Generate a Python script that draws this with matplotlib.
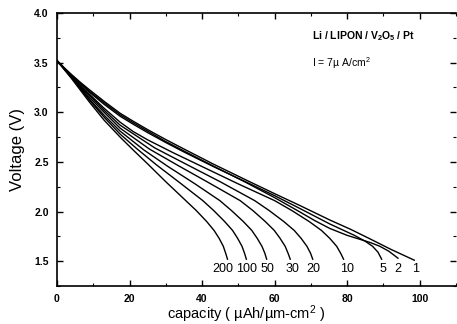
import matplotlib
matplotlib.use("Agg")
import matplotlib.pyplot as plt
from matplotlib.ticker import MultipleLocator

plt.rcParams['font.family'] = ['Liberation Sans Narrow', 'Liberation Sans', 'DejaVu Sans']
plt.rcParams['mathtext.default'] = 'regular'

# discharge curves, one per current (uA/cm2)
rates = ['1', '2', '5', '10', '20', '30', '50', '100', '200']

cap_1 = [0, 2, 4, 6.5, 9, 13, 17.4, 21, 25, 30, 35, 43, 52, 60, 67, 75.2, 81, 86, 92, 98.5]
v_1 = [3.52, 3.448, 3.38, 3.30, 3.225, 3.11, 2.99, 2.91, 2.825, 2.725, 2.63, 2.48, 2.32,
       2.18, 2.06, 1.915, 1.82, 1.73, 1.62, 1.51]

cap_2 = [0, 2, 4, 6.5, 9, 13, 17.4, 21, 25, 30, 35, 43, 52, 60, 67, 71, 75.2, 80, 86.2, 89, 91.5, 94]
v_2 = [3.52, 3.445, 3.375, 3.29, 3.21, 3.095, 2.975, 2.895, 2.81, 2.705, 2.61, 2.46, 2.295,
       2.14, 1.995, 1.91, 1.83, 1.76, 1.69, 1.65, 1.60, 1.53]

cap_5 = [0, 2, 4, 6.5, 9, 13, 17.4, 21, 25, 30, 35, 43, 52, 60, 67, 75.2, 82, 85, 87, 88.5, 89.5]
v_5 = [3.52, 3.445, 3.37, 3.285, 3.20, 3.08, 2.96, 2.88, 2.795, 2.695, 2.60, 2.455, 2.30,
       2.16, 2.03, 1.875, 1.76, 1.70, 1.65, 1.59, 1.52]

cap_10 = [0, 2, 4, 6.5, 9, 13, 17.4, 21, 25, 32, 40, 50, 60, 64.75, 69.5, 72.9, 75.2, 77.1, 78.2, 79]
v_10 = [3.52, 3.44, 3.36, 3.27, 3.18, 3.04, 2.90, 2.806, 2.722, 2.593, 2.453, 2.278, 2.11,
        2.01, 1.90, 1.81, 1.73, 1.65, 1.58, 1.52]

cap_20 = [0, 2, 4, 6.5, 9, 13, 17.4, 27, 36.5, 45, 54.5, 58.5, 62.5, 65.4, 67.3, 68.9, 69.9, 70.5]
v_20 = [3.52, 3.44, 3.355, 3.26, 3.17, 3.02, 2.87, 2.64, 2.46, 2.30, 2.11,
        2.01, 1.90, 1.81, 1.73, 1.65, 1.58, 1.52]

cap_30 = [0, 2, 4, 6.5, 9, 13, 17.4, 25.5, 33.5, 42, 50.5, 54, 57.4, 59.9, 61.5, 62.9, 63.7, 64.3]
v_30 = [3.52, 3.44, 3.35, 3.25, 3.15, 3.00, 2.84, 2.629, 2.461, 2.287, 2.11,
        2.01, 1.90, 1.81, 1.73, 1.65, 1.58, 1.52]

cap_50 = [0, 2, 4, 6.5, 9, 13, 17.4, 24, 30.5, 38, 44.9, 48.1, 51.35, 53.7, 55.2, 56.5, 57.3, 57.8]
v_50 = [3.52, 3.435, 3.35, 3.24, 3.13, 2.97, 2.81, 2.619, 2.456, 2.28, 2.11,
        2.01, 1.90, 1.81, 1.73, 1.65, 1.58, 1.52]

cap_100 = [0, 2, 4, 6.5, 9, 13, 17.4, 22, 27.5, 34, 40.2, 43.2, 46.2, 48.4, 49.8, 51.0, 51.7, 52.2]
v_100 = [3.52, 3.435, 3.35, 3.235, 3.12, 2.95, 2.78, 2.633, 2.468, 2.286, 2.11,
         2.01, 1.90, 1.81, 1.73, 1.65, 1.58, 1.52]

cap_200 = [0, 2, 4, 6.5, 9, 13, 17.4, 21, 25, 30, 35.5, 38.4, 41.25, 43.3, 44.7, 45.85, 46.5, 47]
v_200 = [3.52, 3.43, 3.34, 3.22, 3.10, 2.92, 2.75, 2.62, 2.48, 2.30, 2.11,
         2.01, 1.90, 1.81, 1.73, 1.65, 1.58, 1.52]

caps = [cap_1, cap_2, cap_5, cap_10, cap_20, cap_30, cap_50, cap_100, cap_200]
volts = [v_1, v_2, v_5, v_10, v_20, v_30, v_50, v_100, v_200]

# where the rate labels sit under the curve ends
label_x = [98.9, 93.9, 89.8, 79.9, 70.8, 65, 58.1, 52.3, 45.7]
label_y = 1.42

fig = plt.figure(figsize=(4.57, 3.24), dpi=100)
ax = fig.add_axes([57 / 457, 1 - 286 / 324, 399 / 457, 273 / 324])

for c, v in zip(caps, volts):
    ax.plot(c, v, color='black', linewidth=1.0, solid_joinstyle='round')

for r, lx in zip(rates, label_x):
    ax.text(lx, label_y, r, ha='center', va='center', fontsize=9)

ax.text(0.64, 0.915, 'Li / LIPON / V$_2$O$_5$ / Pt', transform=ax.transAxes,
        fontsize=7.5, fontweight='bold', va='center')
ax.text(0.64, 0.815, 'I = 7µ A/cm$^2$', transform=ax.transAxes,
        fontsize=7.5, va='center')

ax.set_xlim(0, 110)
ax.set_ylim(1.25, 4.0)
ax.xaxis.set_minor_locator(MultipleLocator(10))
ax.yaxis.set_minor_locator(MultipleLocator(0.25))
ax.set_xticks([0, 20, 40, 60, 80, 100])
ax.set_yticks([1.5, 2.0, 2.5, 3.0, 3.5, 4.0])
ax.tick_params(which='both', direction='in', top=True, right=True)
ax.tick_params(which='major', length=4, width=1.0, labelsize=7.5, pad=6)
ax.tick_params(which='minor', length=2, width=0.8)
for lab in ax.get_xticklabels() + ax.get_yticklabels():
    lab.set_fontweight('bold')
    lab.set_family('Liberation Sans')
ax.spines['right'].set_visible(False)
for s in ['left', 'bottom', 'top']:
    ax.spines[s].set_linewidth(1.2)

ax.set_ylabel('Voltage (V)', fontsize=12)
ax.set_xlabel('capacity ( µAh/µm-cm$^2$ )', fontsize=10.5)
ax.yaxis.set_label_coords(-0.08, 0.5)
ax.xaxis.set_label_coords(0.475, -0.065)

fig.savefig('out.png', dpi=100)
